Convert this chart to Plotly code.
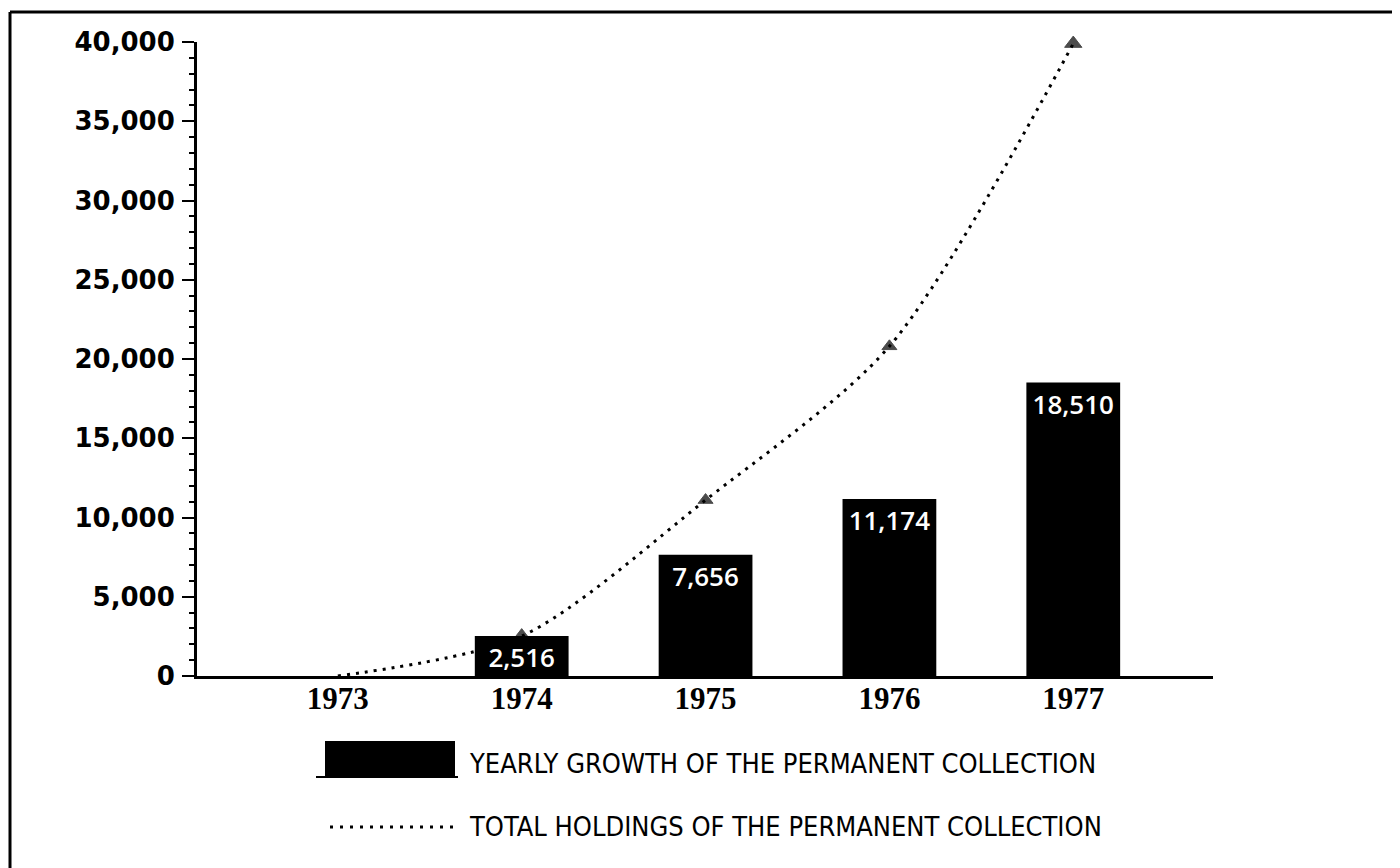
import plotly.graph_objects as go

# ---- data ----
years = [1973, 1974, 1975, 1976, 1977]
bar_years = [1974, 1975, 1976, 1977]
yearly_growth = [2516, 7656, 11174, 18510]
total_holdings = [0, 2516, 11100, 20800, 39900]
bar_labels = ["2,516", "7,656", "11,174", "18,510"]
y_ticks = [0, 5000, 10000, 15000, 20000, 25000, 30000, 35000, 40000]
y_tick_text = ["0", "5,000", "10,000", "15,000", "20,000", "25,000", "30,000", "35,000", "40,000"]
legend_bar = "YEARLY GROWTH OF THE PERMANENT COLLECTION"
legend_line = "TOTAL HOLDINGS OF THE PERMANENT COLLECTION"

OFF = 8  # page body margin
W, H = 1400 - OFF, 868 - OFF
L, R, T, B = 197 - OFF, 1213 - OFF, 42 - OFF, 676 - OFF  # plot area in figure pixels


def px(x):
    return (x - OFF - L) / (R - L)


def py(y):
    return (B - (y - OFF)) / (B - T)


fig = go.Figure()

fig.add_trace(go.Bar(
    x=bar_years, y=yearly_growth, width=0.51,
    marker=dict(color="black", line=dict(width=0)),
    text=bar_labels, textposition="inside", insidetextanchor="end",
    textangle=0, constraintext="none",
    textfont=dict(family="Open Sans", size=26, color="white", weight=600),
    name=legend_bar, showlegend=False,
))

fig.add_trace(go.Scatter(
    x=years, y=total_holdings, mode="lines+markers",
    line=dict(color="black", width=3, dash="3px,6px", shape="spline", smoothing=0.8),
    marker=dict(symbol="triangle-up", size=[0, 15, 13, 13, 15], color="black",
                line=dict(width=1, color="black")),
    name=legend_line, showlegend=False, cliponaxis=False,
))

fig.update_xaxes(
    range=[1972.234, 1977.76], tickvals=years, ticktext=[str(y) for y in years],
    showline=True, linecolor="black", linewidth=3, ticks="", showgrid=False,
    zeroline=False,
    tickfont=dict(family="Liberation Serif", size=31, color="black", weight="bold"),
    ticklabelstandoff=-7,
)
fig.update_yaxes(
    range=[0, 40000], tickvals=y_ticks, ticktext=y_tick_text,
    showline=True, linecolor="black", linewidth=3, ticks="outside", ticklen=12,
    tickwidth=2, tickcolor="black", showgrid=False, zeroline=False,
    minor=dict(dtick=1000, ticks="outside", ticklen=5, tickwidth=2, tickcolor="black"),
    tickfont=dict(family="DejaVu Sans", size=26, color="black", weight="bold"),
    ticklabelstandoff=2,
)

shapes = []
# outer frame (left, top, right)
shapes.append(dict(type="line", xref="paper", yref="paper", x0=px(10), x1=px(10), y0=py(12), y1=py(880), line=dict(color="black", width=3)))
shapes.append(dict(type="line", xref="paper", yref="paper", x0=px(10), x1=px(1395), y0=py(12), y1=py(12), line=dict(color="black", width=3)))
shapes.append(dict(type="line", xref="paper", yref="paper", x0=px(1395), x1=px(1395), y0=py(12), y1=py(880), line=dict(color="black", width=3)))
# legend swatches
shapes.append(dict(type="rect", xref="paper", yref="paper", x0=px(325), x1=px(455), y0=py(777), y1=py(741), fillcolor="black", line=dict(width=0)))
shapes.append(dict(type="line", xref="paper", yref="paper", x0=px(316), x1=px(458), y0=py(777), y1=py(777), line=dict(color="black", width=2)))
shapes.append(dict(type="line", xref="paper", yref="paper", x0=px(330), x1=px(458), y0=py(827), y1=py(827), line=dict(color="black", width=3, dash="3px,7px")))

annotations = [
    dict(text=legend_bar, xref="paper", yref="paper", x=px(467), y=py(763), xanchor="left", yanchor="middle",
         showarrow=False, font=dict(family="DejaVu Sans Condensed, Liberation Sans Narrow", size=27, color="black")),
    dict(text=legend_line, xref="paper", yref="paper", x=px(467), y=py(826), xanchor="left", yanchor="middle",
         showarrow=False, font=dict(family="DejaVu Sans Condensed, Liberation Sans Narrow", size=27, color="black")),
]

fig.update_layout(
    width=W, height=H,
    margin=dict(l=L, r=W - R, t=T, b=H - B, pad=0),
    paper_bgcolor="white", plot_bgcolor="white",
    shapes=shapes, annotations=annotations,
    showlegend=False, bargap=0.5,
)

fig.write_html("out.html")
